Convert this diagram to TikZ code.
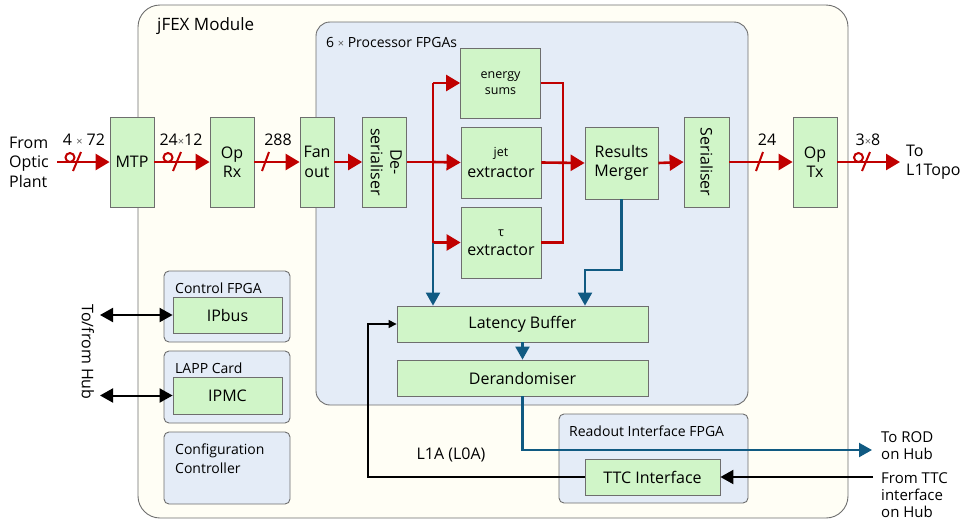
\documentclass[tikz,border=0pt]{standalone}
\usepackage{fontspec}
\usepackage{graphicx}
\setmainfont{Open Sans}
\usetikzlibrary{arrows.meta}
\definecolor{gfill}{RGB}{208,245,200}
\definecolor{bfill}{RGB}{228,236,247}
\definecolor{mfill}{RGB}{255,254,245}
\definecolor{bord}{RGB}{110,110,110}
\definecolor{sigred}{RGB}{192,0,0}
\definecolor{sigblue}{RGB}{16,90,130}
\newcommand\fbig{\fontsize{16}{19.5}\selectfont}
\newcommand\fmid{\fontsize{14}{19}\selectfont}
\newcommand\fsml{\fontsize{12.5}{16}\selectfont}
\newcommand\fout{\fontsize{15}{17}\selectfont}
\newcommand\tms{{\fontsize{11}{11}\selectfont\color{black!65}×}}
\tikzset{
  gbox/.style={draw=bord, fill=gfill, line width=0.8pt, inner sep=0pt, align=center, font=\fbig},
  container/.style={draw=bord, line width=0.9pt, inner sep=0pt, rounded corners=5pt, fill=bfill},
  title/.style={anchor=west, inner sep=0pt, font=\fmid},
  lbl/.style={inner sep=0pt, font=\fbig},
  outtxt/.style={anchor=west, inner sep=0pt, align=left, font=\fout},
  redline/.style={draw=sigred, line width=2.6pt},
  redarrow/.style={redline, -{Triangle[length=14pt,width=16pt]}},
  bluearrow/.style={draw=sigblue, line width=2.2pt, -{Triangle[length=13pt,width=14pt]}},
  blkarrow/.style={draw=black, line width=2pt, -{Triangle[length=13pt,width=14pt]}},
  blkboth/.style={draw=black, line width=2pt, {Triangle[length=13pt,width=14pt]}-{Triangle[length=13pt,width=14pt]}},
  thinarrow/.style={draw=black, line width=1.2pt, -{Triangle[length=8pt,width=8pt]}},
  tick/.style={draw=sigred, line width=2pt},
}
\begin{document}
\begin{tikzpicture}[x=1pt,y=-1pt]
\useasboundingbox (0,0) rectangle (967,520);

% containers
\node[container, fill=mfill, rounded corners=22pt, minimum width=710pt, minimum height=513pt] (module) at (493,261.5) {};
\node[title, font=\fontsize{17}{20}\selectfont] (modtitle) at (157,26) {jFEX Module};
\node[container, rounded corners=14pt, minimum width=432pt, minimum height=383pt] (proc) at (532,213.5) {};
\node[title] (proctitle) at (326,42) {6 \tms{} Processor FPGAs};
\node[container, minimum width=126pt, minimum height=71pt] (ctrl) at (227,306.5) {};
\node[title] (ctrltitle) at (175,288) {Control FPGA};
\node[container, minimum width=126pt, minimum height=72pt] (lapp) at (227,387) {};
\node[title] (lapptitle) at (175,368) {LAPP Card};
\node[container, minimum width=126pt, minimum height=72pt] (config) at (227,468) {};
\node[title, align=left] (configtitle) at (175,458.5) {Configuration\\Controller};
\node[container, minimum width=189pt, minimum height=89pt] (readout) at (653.5,458.5) {};
\node[title] (readouttitle) at (569,431) {Readout Interface FPGA};

% green boxes
\node[gbox, minimum width=44pt, minimum height=90pt] (mtp) at (132,162) {MTP};
\node[gbox, minimum width=44pt, minimum height=90pt] (oprx) at (232,162) {Op\\Rx};
\node[gbox, minimum width=34pt, minimum height=90pt] (fanout) at (317,162) {Fan\\out};
\node[gbox, minimum width=44pt, minimum height=90pt] (deser) at (384.5,162) {\rotatebox{-90}{\begin{tabular}{@{}c@{}}De-\\serialiser\end{tabular}}};
\node[gbox, minimum width=80pt, minimum height=70pt, font=\fsml] (esum) at (500.5,83) {energy\\sums};
\node[gbox, minimum width=80pt, minimum height=71pt] (jet) at (501,162.5) {{\fsml jet}\\[1pt]extractor};
\node[gbox, minimum width=80pt, minimum height=71pt] (tau) at (501,242.5) {{\fsml τ}\\extractor};
\node[gbox, minimum width=73pt, minimum height=72pt] (merger) at (621.5,163) {Results\\Merger};
\node[gbox, minimum width=45pt, minimum height=90pt] (ser) at (706.5,162) {\rotatebox{-90}{Serialiser}};
\node[gbox, minimum width=44pt, minimum height=90pt] (optx) at (815,162) {Op\\Tx};
\node[gbox, minimum width=251pt, minimum height=36pt] (latency) at (522.5,324) {Latency Buffer};
\node[gbox, minimum width=251pt, minimum height=36pt] (derand) at (522.5,378) {Derandomiser};
\node[gbox, minimum width=135pt, minimum height=36pt] (ttc) at (652.5,477) {TTC Interface};
\node[gbox, minimum width=109pt, minimum height=36pt] (ipbus) at (227.5,315) {IPbus};
\node[gbox, minimum width=109pt, minimum height=37pt] (ipmc) at (227.5,395.5) {IPMC};

% outside texts
\node[outtxt, font=\fbig] (optic) at (9,162) {From\\Optic\\Plant};
\node[outtxt, font=\fbig] (l1topo) at (906,162) {To\\L1Topo};
\node[outtxt] (rodtxt) at (881,446) {To ROD\\on Hub};
\node[outtxt] (ttctxt) at (881,495) {From TTC\\interface\\on Hub};
\node[rotate=-90, inner sep=0pt, font=\fbig] (hubtxt) at (88,352) {To/from Hub};
\node[lbl] (l1a) at (451,455) {L1A (L0A)};

% line labels
\node[lbl] (lab1) at (84,140) {4 \tms{} 72};
\node[lbl] (lab2) at (181,140) {24\tms12};
\node[lbl] (lab3) at (278,140) {288};
\node[lbl] (lab4) at (767,140) {24};
\node[lbl] (lab5) at (868,140) {3\tms8};

% coordinates
\coordinate (opticend) at (57,162);
\coordinate (l1topoend) at (900,162);
\coordinate (split) at (433,162);
\coordinate (join) at (563,162);
\coordinate (mbend) at (585,270);
\coordinate (rodend) at (872,450);
\coordinate (ttcin) at (873,477);
\coordinate (l1acorner) at (368,324);
\coordinate (hub1) at (100,315);
\coordinate (hub2) at (100,395.5);

% red data path
\draw[redarrow] (opticend) -- (mtp.west);
\draw[redarrow] (mtp.east) -- (oprx.west);
\draw[redarrow] (oprx.east) -- (fanout.west);
\draw[redarrow] (fanout.east) -- (deser.west);
\draw[redline] (deser.east) -- (split);
\draw[redline] (split |- esum.west) -- (split |- tau.west);
\draw[redarrow] (split |- esum.west) -- (esum.west);
\draw[redarrow] (split) -- (jet.west);
\draw[redarrow] (split |- tau.west) -- (tau.west);
\draw[redline] (esum.east) -| (join);
\draw[redline] (tau.east) -| (join);
\draw[redarrow] (jet.east) -- (merger.west);
\draw[redarrow] (merger.east) -- (ser.west);
\draw[redarrow] (ser.east) -- (optx.west);
\draw[redarrow] (optx.east) -- (l1topoend);

% fibre / bus markers
\draw[tick] (70,157.5) circle (4.5pt);
\draw[tick] (73,171) -- (81,152);
\draw[tick] (168,157.5) circle (4.5pt);
\draw[tick] (173,171) -- (181,152);
\draw[tick] (262,171) -- (269,152);
\draw[tick] (756,171) -- (763,152);
\draw[tick] (858.5,157.5) circle (4.5pt);
\draw[tick] (862,171) -- (870,152);

% readout path
\draw[bluearrow] (split |- tau.west) -- (split |- latency.north);
\draw[bluearrow] (merger.south) |- (mbend) -- (mbend |- latency.north);
\draw[bluearrow] (latency.south) -- (derand.north);
\draw[bluearrow] (derand.south) |- (rodend);

% control
\draw[blkarrow] (ttcin) -- (ttc.east);
\draw[thinarrow] (ttc.west) -| (l1acorner) -- (latency.west);
\draw[blkboth] (hub1) -- (ipbus.west);
\draw[blkboth] (hub2) -- (ipmc.west);
\end{tikzpicture}
\end{document}
